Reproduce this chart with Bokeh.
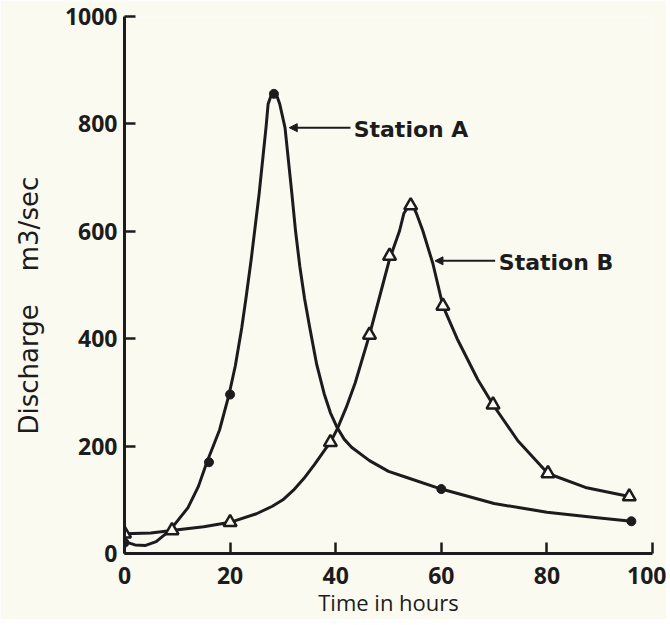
from bokeh.plotting import figure
from bokeh.models import Range1d, FixedTicker, Arrow, NormalHead, Label
from bokeh.embed import file_html
from bokeh.resources import INLINE

# ---- data (time in hours, discharge in m3/sec) ----
x_ticks = [0, 20, 40, 60, 80, 100]
y_ticks = [0, 200, 400, 600, 800, 1000]

# plotted observation points
station_a_t = [0, 16, 20, 28.3, 60, 96]
station_a_q = [20, 170, 296, 856, 120, 60]

station_b_t = [0, 9, 20, 39, 46.4, 50.2, 54.2, 60.3, 69.8, 80.2, 95.6]
station_b_q = [37, 43, 58, 207, 407, 554, 648, 461, 277, 149, 106]

# hand-drawn hydrograph curves
curve_a_t = [0, 2, 4, 6, 8.6, 12, 14, 15.6, 18, 19.8, 21, 22.2, 23, 24.0, 25.5,
             26.8, 27.2, 27.7, 28.3, 28.9, 29.4, 30.4, 31.7, 32.4, 33.2, 34.1,
             35.1, 36.4, 37.8, 39, 40.3, 41.6, 43, 46.4, 50, 53.6, 60, 70, 80,
             90, 96]
curve_a_q = [22, 16, 15, 22, 43, 85, 125, 170, 230, 296, 350, 420, 475, 548, 670,
             793, 837, 851, 856, 851, 837, 793, 670, 600, 535, 475,
             420, 352, 298, 262, 234, 213, 198, 173, 153, 141, 120, 93, 77,
             66, 60]

curve_b_t = [0, 5, 8.9, 15, 20, 25, 28, 30, 32, 34, 36, 38, 39, 40.3, 42, 43.7,
             46.4, 48.9, 50.2, 52.1, 52.9, 53.6, 54.2, 54.8, 55.3, 56.5, 58.4,
             60.3, 63, 66.9, 69.8, 74.5, 80.2, 87.3, 95.6]
curve_b_q = [37, 38, 43, 50, 58, 74, 88, 100, 118, 140, 166, 194, 207, 232, 272,
             318, 407, 500, 548, 601, 633, 644, 648, 644, 633, 601, 540,
             461, 400, 324, 277, 210, 149, 123, 106]

# station labels with leader arrows
label_text = ["Station A", "Station B"]
label_t = [43.4, 70.9]
label_q = [789, 541]
arrow_tail_t = [42.8, 70.2]
arrow_tip_t = [31.2, 58.8]
arrow_q = [793, 545]

# ---- styling ----
BG = "#fbfaf1"
INK = "#1c1c1c"
FONT = "Open Sans"
WIDE = "DejaVu Sans"
NB = "\u00a0"

p = figure(frame_width=528, frame_height=537,
           min_border_left=124, min_border_top=16, min_border_right=14, min_border_bottom=58,
           x_range=Range1d(0, 100), y_range=Range1d(0, 1000),
           output_backend="svg", toolbar_location=None)
p.background_fill_color = BG
p.border_fill_color = BG
p.outline_line_color = None
p.grid.visible = False

for ax in (p.xaxis[0], p.yaxis[0]):
    ax.axis_line_width = 3
    ax.axis_line_color = INK
    ax.major_tick_line_width = 2.5
    ax.major_tick_line_color = INK
    ax.major_tick_in = 11
    ax.major_tick_out = 0
    ax.minor_tick_line_color = None
    ax.major_label_text_font = FONT
    ax.major_label_text_font_style = "bold"
    ax.major_label_text_font_size = "23px"
    ax.major_label_text_color = INK
    ax.axis_label_text_font_style = "normal"
    ax.axis_label_text_color = INK

p.xaxis.ticker = FixedTicker(ticks=x_ticks)
p.yaxis.ticker = FixedTicker(ticks=y_ticks)
p.xaxis.axis_label = "Time in hours"
p.xaxis.axis_label_text_font = FONT
p.xaxis.axis_label_text_font_size = "22px"
p.yaxis.axis_label = "Discharge" + NB * 4 + "m3/sec" + NB * 5
p.yaxis.axis_label_text_font = WIDE
p.yaxis.axis_label_text_font_size = "26px"
p.xaxis.major_label_standoff = 13
p.xaxis.axis_label_standoff = 0
p.yaxis.major_label_standoff = 7
p.yaxis.axis_label_standoff = 18

# curves
p.line(curve_a_t, curve_a_q, line_width=3, line_color=INK, line_join="round")
p.line(curve_b_t, curve_b_q, line_width=3, line_color=INK, line_join="round")

# markers
p.scatter(station_a_t, station_a_q, marker="circle", size=9,
          fill_color=INK, line_color=INK)
p.scatter(station_b_t, station_b_q, marker="triangle", size=13,
          fill_color=BG, line_color=INK, line_width=2.5)

# labels and leader arrows
for txt, lt, lq, at0, at1, aq in zip(label_text, label_t, label_q,
                                      arrow_tail_t, arrow_tip_t, arrow_q):
    p.add_layout(Arrow(end=NormalHead(size=8, fill_color=INK, line_color=INK),
                       x_start=at0, y_start=aq, x_end=at1, y_end=aq,
                       line_width=2, line_color=INK))
    p.add_layout(Label(x=lt, y=lq, text=txt, text_align="left",
                       text_baseline="middle", text_font=WIDE,
                       text_font_style="bold", text_font_size="22px",
                       text_color=INK))

open("out.html", "w").write(file_html(p, INLINE))
